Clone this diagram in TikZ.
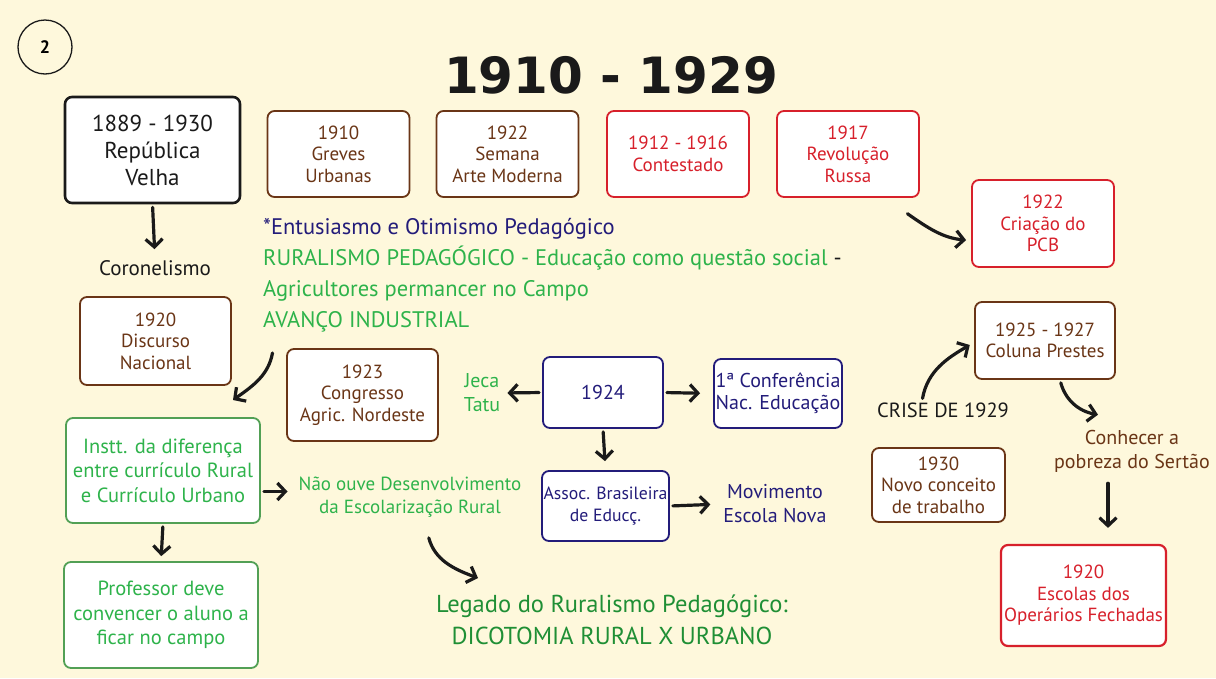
\documentclass[tikz,border=0pt]{standalone}
\usepackage{fontspec}
\setmainfont{PT Sans}
\newfontfamily\titulo{DejaVu Sans}
\usetikzlibrary{arrows.meta}
\definecolor{papel}{HTML}{FEF8DC}
\definecolor{escuro}{HTML}{1A1A1A}
\definecolor{tijolo}{HTML}{6A3516}
\definecolor{vermelho}{HTML}{D7202B}
\definecolor{azul}{HTML}{231C7A}
\definecolor{verde}{HTML}{2EB34B}
\definecolor{verdecx}{HTML}{52A055}
\definecolor{verdeesc}{HTML}{1F8F35}
\begin{document}
\begin{tikzpicture}[x=1pt,y=-1pt,
    caixa/.style={draw=#1,text=#1,fill=white,line width=1.8pt,rounded corners=7pt,align=center,inner sep=1pt,font=\fontsize{19}{21.5}\selectfont},
    rotulo/.style={text=#1,align=center,inner sep=1pt,font=\fontsize{20}{24}\selectfont},
    seta/.style={-{Straight Barb[length=8pt,width=17pt]},line width=3.2pt,line cap=round,escuro,shorten <=3pt}]
    \fill[papel] (0,0) rectangle (1216,678);
    %\draw[step=50pt,gray,very thin] (0,0) grid (1216,678);

    \node[circle,draw=escuro,line width=1.3pt,minimum size=54pt,font=\bfseries\fontsize{18}{18}\selectfont] (num) at (45,47) {2};
    \node[font=\titulo\bfseries\fontsize{50}{56}\selectfont,text=escuro] (titulo) at (611,75) {1910 - 1929};

    \node[caixa=escuro,line width=2.6pt,minimum width=175pt,minimum height=106pt,font=\fontsize{23}{27}\selectfont] (rv) at (152.5,150) {1889 - 1930\\República\\Velha};
    \foreach \x/\y/\nome/\cor/\texto in {338.5/154/greves/tijolo/{1910\\Greves\\Urbanas},507.5/154/semana/tijolo/{1922\\Semana\\Arte Moderna},678/154/contestado/vermelho/{1912 - 1916\\Contestado},848/154/revolucao/vermelho/{1917\\Revolução\\Russa}}
        \node[caixa=\cor,minimum width=142pt,minimum height=86pt] (\nome) at (\x,\y) {\texto};
    \node[caixa=vermelho,minimum width=142pt,minimum height=87pt] (pcb) at (1043,223.5) {1922\\Criação do\\PCB};

    \node[rotulo=escuro,font=\fontsize{21}{22}\selectfont] (coronel) at (155,268) {Coronelismo};
    \node[anchor=west,align=left,inner sep=0pt,text=escuro,font=\fontsize{22.5}{31}\selectfont] (ideias) at (263,275)
        {\textcolor{azul}{*Entusiasmo e Otimismo Pedagógico}\\
         \textcolor{verde}{RURALISMO PEDAGÓGICO - Educação como questão social} -\\
         \textcolor{verde}{Agricultores permancer no Campo}\\
         \textcolor{verde}{AVANÇO INDUSTRIAL}};

    \node[caixa=tijolo,minimum width=151pt,minimum height=88pt] (discurso) at (155.5,341) {1920\\Discurso\\Nacional};
    \node[caixa=tijolo,minimum width=151pt,minimum height=92pt] (congresso) at (362.5,395) {1923\\Congresso\\Agric. Nordeste};
    \node[caixa=verdecx,text=verde,minimum width=194pt,minimum height=105pt,font=\fontsize{20.5}{24.5}\selectfont] (instt) at (163,470.5) {Instt. da diferença\\entre currículo Rural\\e Currículo Urbano};
    \node[caixa=verdecx,text=verde,minimum width=194pt,minimum height=106pt,font=\fontsize{20.5}{24.5}\selectfont] (professor) at (161,615) {Professor deve\\convencer o aluno a\\ficar no campo};
    \node[rotulo=verde,font=\fontsize{19}{23.5}\selectfont] (naoouve) at (410,497) {Não ouve Desenvolvimento\\da Escolarização Rural};
    \node[rotulo=verdeesc,font=\fontsize{24.5}{32}\selectfont] (legado) at (612,620) {Legado do Ruralismo Pedagógico:\\DICOTOMIA RURAL X URBANO};

    \node[caixa=azul,minimum width=120pt,minimum height=71pt,font=\fontsize{20}{22}\selectfont] (ano) at (603,392.5) {1924};
    \node[rotulo=verde] (jeca) at (482,393) {Jeca\\Tatu};
    \node[caixa=azul,minimum width=128pt,minimum height=69pt,font=\fontsize{20}{22.5}\selectfont] (conf) at (778,393.5) {1ª Conferência\\Nac. Educação};
    \node[caixa=azul,minimum width=127pt,minimum height=70pt,font=\fontsize{17.7}{22}\selectfont] (assoc) at (605.5,506) {Assoc. Brasileira\\de Educç.};
    \node[rotulo=azul] (movimento) at (775,504) {Movimento\\Escola Nova};

    \node[caixa=tijolo,minimum width=140pt,minimum height=77pt] (coluna) at (1045,340.5) {1925 - 1927\\Coluna Prestes};
    \node[rotulo=escuro,font=\fontsize{20.5}{24}\selectfont] (crise) at (943,410) {CRISE DE 1929};
    \node[rotulo=tijolo] (conhecer) at (1132,451) {Conhecer a\\pobreza do Sertão};
    \node[caixa=tijolo,minimum width=133pt,minimum height=74pt] (novo) at (938.5,485) {1930\\Novo conceito\\de trabalho};
    \node[caixa=vermelho,line width=2.2pt,minimum width=165pt,minimum height=101pt] (escolas) at (1083.5,595.5) {1920\\Escolas dos\\Operários Fechadas};

    % setas
    \coordinate (rusA) at (905,212);
    \coordinate (avA) at (273,350);
    \coordinate (avB) at (233,400);
    \coordinate (naoA) at (428,535);
    \coordinate (naoB) at (478,578);
    \draw[seta,shorten >=10pt] (rv.south) -- (coronel.north);
    \draw[seta,shorten >=5pt] (rusA) to[out=-35,in=175] ([yshift=-17pt]pcb.west);
    \draw[seta] (avA) to[out=-100,in=35] (avB);
    \draw[seta,shorten >=10pt] ([yshift=-21pt]instt.east) -- ([yshift=-21pt]instt.east -| naoouve.west);
    \draw[seta,shorten >=5pt] (instt.south) -- (professor.north);
    \draw[seta] (naoA) to[out=-75,in=160] (naoB);
    \draw[seta,shorten >=6pt] (ano.west) -- (jeca.east);
    \draw[seta,shorten >=13pt] (ano.east) -- (conf.west);
    \draw[seta,shorten >=9pt] (ano.south) -- (assoc.north);
    \draw[seta,shorten >=12pt] (assoc.east) -- (movimento.west);
    \draw[seta,shorten >=5pt] ([xshift=-21pt]crise.north) to[out=80,in=-150] ([yshift=-2pt]coluna.west);
    \draw[seta] ([xshift=15pt]coluna.south) to[out=-75,in=170] ([shift={(-34pt,14pt)}]conhecer.north);
    \draw[seta,shorten <=10pt,shorten >=16pt] ([xshift=-24pt]conhecer.south) -- ([xshift=-24pt]conhecer.south |- escolas.north);
\end{tikzpicture}
\end{document}
